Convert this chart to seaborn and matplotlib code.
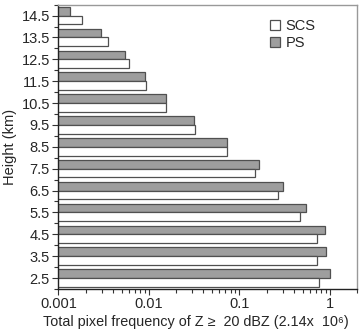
import numpy as np
import pandas as pd
import matplotlib
matplotlib.use("Agg")
import matplotlib.pyplot as plt
from matplotlib.ticker import FixedLocator, LogLocator, NullFormatter
import seaborn as sns

# height levels (km), top to bottom
heights = ["14.5", "13.5", "12.5", "11.5", "10.5", "9.5", "8.5",
           "7.5", "6.5", "5.5", "4.5", "3.5", "2.5"]
ps = [0.00136, 0.00296, 0.00546, 0.00908, 0.0156, 0.0313, 0.0731,
      0.163, 0.304, 0.541, 0.877, 0.915, 1.0]
scs = [0.00183, 0.0035, 0.006, 0.0094, 0.0155, 0.0321, 0.0731,
       0.150, 0.267, 0.463, 0.722, 0.722, 0.752]

df = pd.DataFrame({
    "height": heights * 2,
    "freq": ps + scs,
    "type": ["PS"] * len(ps) + ["SCS"] * len(scs),
})

sns.set_style("ticks")
plt.rcParams["font.family"] = ["Liberation Sans", "DejaVu Sans"]

fig = plt.figure(figsize=(3.6, 3.31), dpi=100)
ax = fig.add_axes([0.162, 0.127, 0.830, 0.859])

sns.barplot(
    data=df, x="freq", y="height", hue="type",
    order=heights, hue_order=["PS", "SCS"],
    palette={"PS": "#9e9e9e", "SCS": "#ffffff"},
    orient="h", width=0.8, gap=0, edgecolor="#505050", linewidth=0.9,
    ax=ax,
)

ax.set_xscale("log")
ax.set_xlim(0.001, 2)
ax.set_ylim(12.5, -0.5)
ax.xaxis.set_major_locator(FixedLocator([0.001, 0.01, 0.1, 1]))
ax.set_xticklabels(["0.001", "0.01", "0.1", "1"])
ax.xaxis.set_minor_locator(LogLocator(base=10, subs=np.arange(2, 10)))
ax.xaxis.set_minor_formatter(NullFormatter())
ax.yaxis.set_minor_locator(FixedLocator(np.arange(-0.5, 12.6, 1)))

ax.tick_params(axis="both", which="major", labelsize=10.5, length=4, width=0.8,
               color="#333333", pad=2)
ax.tick_params(axis="both", which="minor", length=3, width=0.8, color="#333333")

for side in ["left", "bottom"]:
    ax.spines[side].set_color("#222222")
    ax.spines[side].set_linewidth(1.0)
for side in ["top", "right"]:
    ax.spines[side].set_visible(True)
    ax.spines[side].set_color("#999999")
    ax.spines[side].set_linewidth(1.0)

ax.set_xlabel("Total pixel frequency of Z \u2265  20 dBZ (2.14x  10\u2076)",
              fontsize=10.4, labelpad=3, x=0.46)
ax.set_ylabel("Height (km)", fontsize=10.5, labelpad=3)

handles, labels = ax.get_legend_handles_labels()
lut = dict(zip(labels, handles))
ax.legend([lut["SCS"], lut["PS"]], ["SCS", "PS"], loc="upper right",
          frameon=False, fontsize=10.5, handlelength=0.7, handleheight=0.7,
          handletextpad=0.4, labelspacing=0.2, borderaxespad=0.6,
          bbox_to_anchor=(0.91, 1.0))

fig.savefig("out.png", dpi=100)
